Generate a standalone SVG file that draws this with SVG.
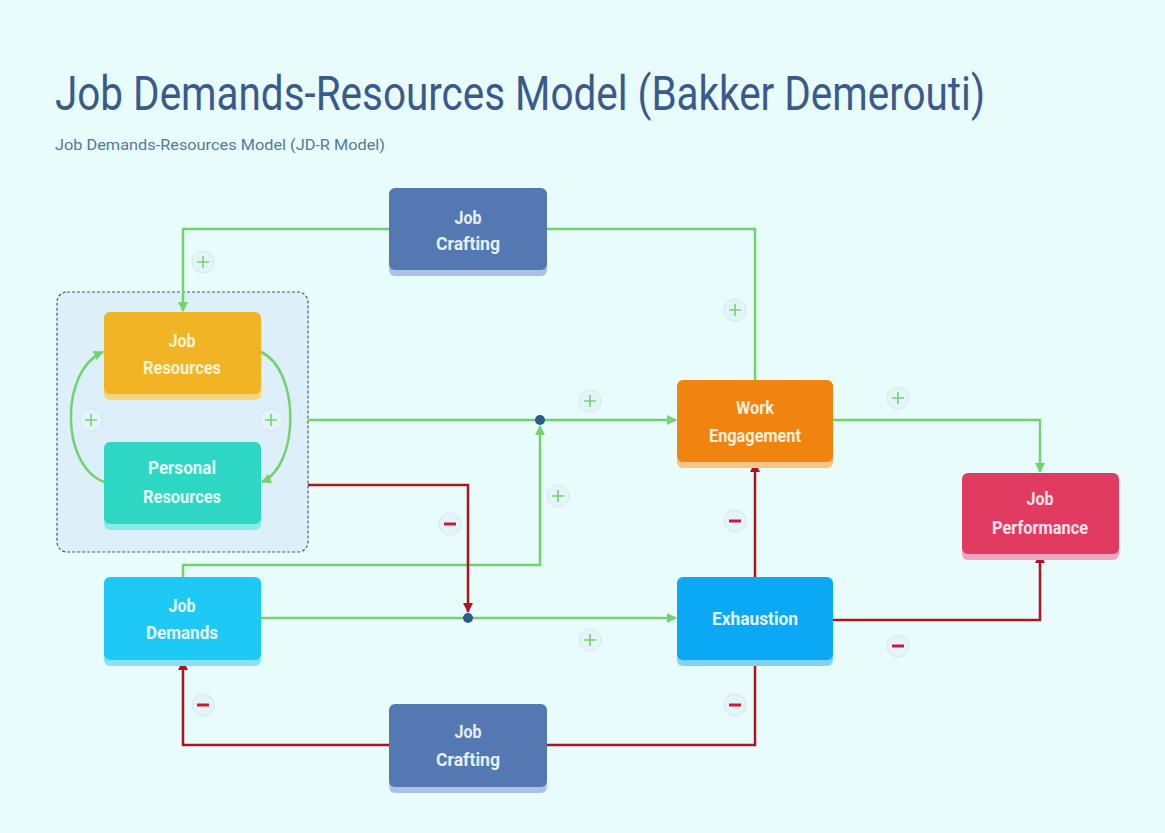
<svg xmlns="http://www.w3.org/2000/svg" width="1165" height="833" viewBox="0 0 1165 833">
<style>
.title{font-family:Roboto,"Liberation Sans",sans-serif;font-size:48px;fill:#3b5a8c}
.sub{font-family:Roboto,"Liberation Sans",sans-serif;font-size:15px;fill:#56789e}
.lbl{font-family:Roboto,"Liberation Sans",sans-serif;font-size:18px;font-weight:bold;text-anchor:middle}
.g{fill:none;stroke:#72d36e;stroke-width:2.5}
.r{fill:none;stroke:#b0121f;stroke-width:2.5}
.badge{fill:#e4f4f8;stroke:#d4e8ee;stroke-width:1}
.ps{stroke:#72d36e;stroke-width:1.6}
.ms{stroke:#cc1a30;stroke-width:3}
</style>
<defs>
<marker id="ag" viewBox="0 0 10 10" refX="9" refY="5" markerWidth="10" markerHeight="10" markerUnits="userSpaceOnUse" orient="auto"><path d="M0,0L10,5L0,10z" fill="#72d36e"/></marker>
<marker id="ar" viewBox="0 0 10 10" refX="9" refY="5" markerWidth="10" markerHeight="10" markerUnits="userSpaceOnUse" orient="auto"><path d="M0,0L10,5L0,10z" fill="#b0121f"/></marker>
</defs>
<rect width="1165" height="833" fill="#e8fcfc"/>
<text class="title" x="55" y="110" textLength="930" lengthAdjust="spacingAndGlyphs">Job Demands-Resources Model (Bakker Demerouti)</text>
<text class="sub" x="55" y="150" textLength="330" lengthAdjust="spacingAndGlyphs">Job Demands-Resources Model (JD-R Model)</text>

<g id="group-resources">
<rect x="57" y="292" width="251" height="260" rx="10" fill="#ddeff8" stroke="#4f5d70" stroke-width="1.2" stroke-dasharray="3,2"/>
</g>

<g id="connectors">
<path class="g" d="M389,229H183V311" marker-end="url(#ag)"/>
<path class="g" d="M755,380V229H547"/>
<path class="g" d="M261,352C300,370 300,465 262,482" marker-end="url(#ag)"/>
<path class="g" d="M104,482C60,465 60,370 103,352" marker-end="url(#ag)"/>
<path class="g" d="M308,420H676" marker-end="url(#ag)"/>
<path class="g" d="M183,577V565H540V426" marker-end="url(#ag)"/>
<path class="g" d="M261,618H676" marker-end="url(#ag)"/>
<path class="g" d="M833,420H1040V472" marker-end="url(#ag)"/>
<path class="r" d="M308,485H468V612" marker-end="url(#ar)"/>
<path class="r" d="M755,577V463" marker-end="url(#ar)"/>
<path class="r" d="M833,620H1040V554" marker-end="url(#ar)"/>
<path class="r" d="M755,660V745H547"/>
<path class="r" d="M389,745H183V661" marker-end="url(#ar)"/>
<circle cx="540" cy="420" r="5" fill="#2d5a8c"/>
<circle cx="468" cy="618" r="5" fill="#2d5a8c"/>
<g id="signs">
<circle class="badge" cx="203" cy="262" r="11"/><path class="ps" d="M197,262h12M203,256v12"/>
<circle class="badge" cx="735" cy="310" r="11"/><path class="ps" d="M729,310h12M735,304v12"/>
<circle class="badge" cx="91" cy="420" r="11"/><path class="ps" d="M85,420h12M91,414v12"/>
<circle class="badge" cx="271" cy="420" r="11"/><path class="ps" d="M265,420h12M271,414v12"/>
<circle class="badge" cx="590" cy="401" r="11"/><path class="ps" d="M584,401h12M590,395v12"/>
<circle class="badge" cx="898" cy="398" r="11"/><path class="ps" d="M892,398h12M898,392v12"/>
<circle class="badge" cx="558" cy="496" r="11"/><path class="ps" d="M552,496h12M558,490v12"/>
<circle class="badge" cx="590" cy="640" r="11"/><path class="ps" d="M584,640h12M590,634v12"/>
<circle class="badge" cx="450" cy="524" r="11"/><path class="ms" d="M444,524h12"/>
<circle class="badge" cx="735" cy="521" r="11"/><path class="ms" d="M729,521h12"/>
<circle class="badge" cx="898" cy="646" r="11"/><path class="ms" d="M892,646h12"/>
<circle class="badge" cx="735" cy="705" r="11"/><path class="ms" d="M729,705h12"/>
<circle class="badge" cx="203" cy="705" r="11"/><path class="ms" d="M197,705h12"/>
</g>
</g>

<g id="job-crafting-top">
<rect x="389" y="194" width="158" height="82" rx="6" fill="#a9c2e6"/>
<rect x="389" y="188" width="158" height="82" rx="6" fill="#5479b2"/>
<text class="lbl" x="468" y="224" fill="#e6f0fa" textLength="27" lengthAdjust="spacingAndGlyphs">Job</text>
<text class="lbl" x="468" y="250" fill="#e6f0fa" textLength="64" lengthAdjust="spacingAndGlyphs">Crafting</text>
</g>
<g id="job-resources">
<rect x="104" y="318" width="157" height="82" rx="6" fill="#f6d67c"/>
<rect x="104" y="312" width="157" height="82" rx="6" fill="#f1b424"/>
<text class="lbl" x="182" y="347" fill="#fdf3d8" textLength="27" lengthAdjust="spacingAndGlyphs">Job</text>
<text class="lbl" x="182" y="374" fill="#fdf3d8" textLength="78" lengthAdjust="spacingAndGlyphs">Resources</text>
</g>
<g id="personal-resources">
<rect x="104" y="448" width="157" height="82" rx="6" fill="#86ece4"/>
<rect x="104" y="442" width="157" height="82" rx="6" fill="#2dd7c4"/>
<text class="lbl" x="182" y="474" fill="#e4fbf8" textLength="68" lengthAdjust="spacingAndGlyphs">Personal</text>
<text class="lbl" x="182" y="503" fill="#e4fbf8" textLength="78" lengthAdjust="spacingAndGlyphs">Resources</text>
</g>
<g id="work-engagement">
<rect x="677" y="386" width="156" height="82" rx="6" fill="#f8c486"/>
<rect x="677" y="380" width="156" height="82" rx="6" fill="#f0840f"/>
<text class="lbl" x="755" y="414" fill="#fdf0dc" textLength="38" lengthAdjust="spacingAndGlyphs">Work</text>
<text class="lbl" x="755" y="442" fill="#fdf0dc" textLength="92" lengthAdjust="spacingAndGlyphs">Engagement</text>
</g>
<g id="job-performance">
<rect x="962" y="479" width="157" height="81" rx="6" fill="#f0a4c4"/>
<rect x="962" y="473" width="157" height="81" rx="6" fill="#e23b62"/>
<text class="lbl" x="1040" y="505" fill="#fde4ec" textLength="27" lengthAdjust="spacingAndGlyphs">Job</text>
<text class="lbl" x="1040" y="534" fill="#fde4ec" textLength="96" lengthAdjust="spacingAndGlyphs">Performance</text>
</g>
<g id="job-demands">
<rect x="104" y="583" width="157" height="83" rx="6" fill="#8ae2f8"/>
<rect x="104" y="577" width="157" height="83" rx="6" fill="#1ec9f6"/>
<text class="lbl" x="182" y="612" fill="#e4f8fe" textLength="27" lengthAdjust="spacingAndGlyphs">Job</text>
<text class="lbl" x="182" y="639" fill="#e4f8fe" textLength="72" lengthAdjust="spacingAndGlyphs">Demands</text>
</g>
<g id="exhaustion">
<rect x="677" y="583" width="156" height="83" rx="6" fill="#80d2f8"/>
<rect x="677" y="577" width="156" height="83" rx="6" fill="#0ba8f5"/>
<text class="lbl" x="755" y="625" fill="#e4f6fe" textLength="86" lengthAdjust="spacingAndGlyphs">Exhaustion</text>
</g>
<g id="job-crafting-bottom">
<rect x="389" y="710" width="158" height="83" rx="6" fill="#a9c2e6"/>
<rect x="389" y="704" width="158" height="83" rx="6" fill="#5479b2"/>
<text class="lbl" x="468" y="738" fill="#e6f0fa" textLength="27" lengthAdjust="spacingAndGlyphs">Job</text>
<text class="lbl" x="468" y="766" fill="#e6f0fa" textLength="64" lengthAdjust="spacingAndGlyphs">Crafting</text>
</g>
</svg>
